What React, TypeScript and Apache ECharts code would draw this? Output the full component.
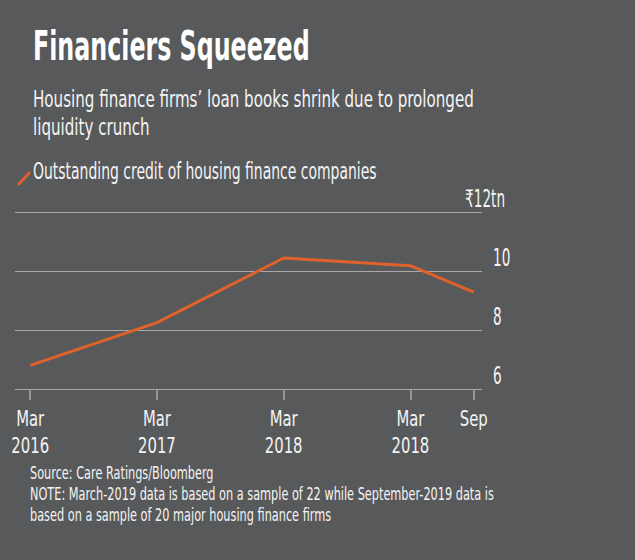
import React, { useEffect, useRef } from 'react';
import * as echarts from 'echarts';

const xValues = [2016, 2017, 2018, 2019, 2019.5];
const xLabels = ['Mar\n2016', 'Mar\n2017', 'Mar\n2018', 'Mar\n2018', 'Sep'];
const credit = [6.8, 8.25, 10.44, 10.18, 9.28];
const yTicks = [6, 8, 10, 12];
const yLabels = ['6', '8', '10', '\u20b912tn'];

const titleText = 'Financiers Squeezed';
const subtitleLines = ['Housing finance firms\u2019 loan books shrink due to prolonged', 'liquidity crunch'];
const legendLabel = 'Outstanding credit of housing finance companies';
const sourceLines = [
  'Source: Care Ratings/Bloomberg',
  'NOTE: March-2019 data is based on a sample of 22 while September-2019 data is',
  'based on a sample of 20 major housing finance firms',
];

const FONT = "'DejaVu Sans Condensed', 'DejaVu Sans', sans-serif";
const BG = '#58595b';
const ORANGE = '#e0622a';
const GRID = '#a9a9a9';
const TEXT = '#f4f4f4';

export default function App() {
  const ref = useRef<HTMLDivElement>(null);
  useEffect(() => {
    document.body.style.margin = '0';
    const chart = echarts.init(ref.current!, null, { renderer: 'svg' });
    chart.setOption({
      animation: false,
      backgroundColor: BG,
      grid: { left: 15, right: 153, top: 212, bottom: 171 },
      xAxis: {
        type: 'value',
        min: 2015.88,
        max: 2019.565,
        axisLine: { show: false },
        splitLine: { show: false },
        axisTick: { show: true, length: 11, customValues: xValues, lineStyle: { color: GRID, width: 1.5 } },
        axisLabel: { show: false },
      },
      yAxis: {
        type: 'value',
        position: 'right',
        min: yTicks[0],
        max: yTicks[yTicks.length - 1],
        interval: 2,
        axisLine: { show: false },
        axisTick: { show: false },
        splitLine: { show: true, lineStyle: { color: GRID, width: 1 } },
        axisLabel: { show: false },
      },
      series: [
        {
          type: 'line',
          data: xValues.map((x, i) => [x, credit[i]]),
          symbol: 'none',
          lineStyle: { color: ORANGE, width: 3 },
        },
      ],
    });

    const gridRight = chart.convertToPixel({ xAxisIndex: 0 }, 2019.565) as number;
    const axisY = chart.convertToPixel({ yAxisIndex: 0 }, yTicks[0]) as number;

    const xLabelEls = xValues.map((v, i) => ({
      type: 'text',
      x: chart.convertToPixel({ xAxisIndex: 0 }, v) as number,
      y: axisY + 16,
      scaleX: 0.75,
      style: {
        text: xLabels[i],
        fill: TEXT,
        fontFamily: FONT,
        fontSize: 22,
        lineHeight: 27,
        align: 'center',
        verticalAlign: 'top',
      },
    }));

    const yLabelEls = yTicks.map((v, i) => {
      const isTop = i === yTicks.length - 1;
      return {
        type: 'text',
        x: isTop ? gridRight + 23 : gridRight + 11,
        y: (chart.convertToPixel({ yAxisIndex: 0 }, v) as number) - 1,
        scaleX: 0.63,
        style: {
          text: yLabels[i],
          fill: TEXT,
          fontFamily: FONT,
          fontSize: 24,
          align: isTop ? 'right' : 'left',
          verticalAlign: 'bottom',
        },
      };
    });

    chart.setOption({
      graphic: [
        {
          type: 'text',
          x: 33,
          y: 26,
          scaleX: 0.66,
          style: { text: titleText, fill: '#ffffff', fontFamily: FONT, fontWeight: 'bold', fontSize: 40 },
        },
        {
          type: 'text',
          x: 33,
          y: 85,
          scaleX: 0.73,
          style: { text: subtitleLines.join('\n'), fill: TEXT, fontFamily: FONT, fontSize: 23, lineHeight: 28 },
        },
        {
          type: 'line',
          shape: { x1: 18, y1: 185, x2: 30, y2: 172 },
          style: { stroke: ORANGE, lineWidth: 3 },
        },
        {
          type: 'text',
          x: 33,
          y: 160,
          scaleX: 0.675,
          style: { text: legendLabel, fill: TEXT, fontFamily: FONT, fontSize: 23 },
        },
        {
          type: 'text',
          x: 30,
          y: 463,
          scaleX: 0.74,
          style: { text: sourceLines.join('\n'), fill: TEXT, fontFamily: FONT, fontSize: 17, lineHeight: 21 },
        },
        ...xLabelEls,
        ...yLabelEls,
      ],
    });
    return () => chart.dispose();
  }, []);
  return <div ref={ref} style={{ position: 'fixed', left: 0, top: 0, width: 635, height: 560 }} />;
}
